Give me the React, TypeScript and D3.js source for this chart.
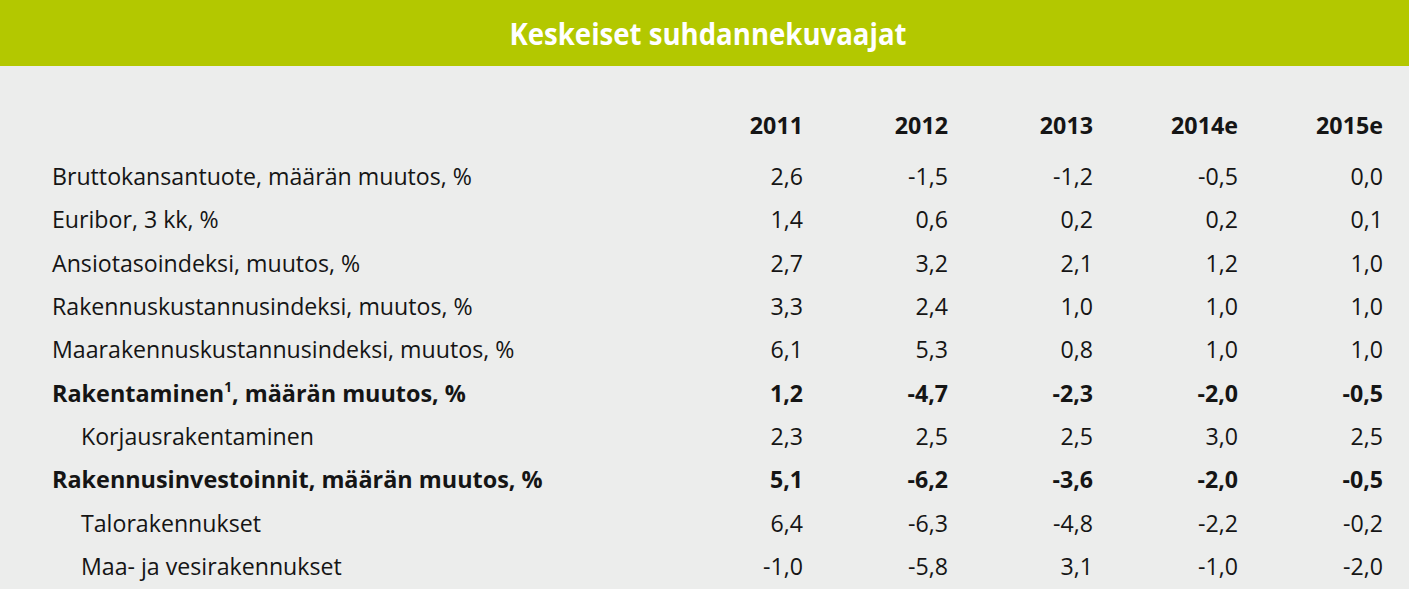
import React from 'react'
import * as d3 from 'd3'

const title = 'Keskeiset suhdannekuvaajat'
const years = ['2011', '2012', '2013', '2014e', '2015e']

const rowLabels = [
  'Bruttokansantuote, määrän muutos, %',
  'Euribor, 3 kk, %',
  'Ansiotasoindeksi, muutos, %',
  'Rakennuskustannusindeksi, muutos, %',
  'Maarakennuskustannusindeksi, muutos, %',
  'Rakentaminen',
  'Korjausrakentaminen',
  'Rakennusinvestoinnit, määrän muutos, %',
  'Talorakennukset',
  'Maa- ja vesirakennukset',
]
const boldRows = [5, 7]
const indentRows = [6, 8, 9]

const v2011 = ['2,6', '1,4', '2,7', '3,3', '6,1', '1,2', '2,3', '5,1', '6,4', '-1,0']
const v2012 = ['-1,5', '0,6', '3,2', '2,4', '5,3', '-4,7', '2,5', '-6,2', '-6,3', '-5,8']
const v2013 = ['-1,2', '0,2', '2,1', '1,0', '0,8', '-2,3', '2,5', '-3,6', '-4,8', '3,1']
const v2014 = ['-0,5', '0,2', '1,2', '1,0', '1,0', '-2,0', '3,0', '-2,0', '-2,2', '-1,0']
const v2015 = ['0,0', '0,1', '1,0', '1,0', '1,0', '-0,5', '2,5', '-0,5', '-0,2', '-2,0']
const columns = [v2011, v2012, v2013, v2014, v2015]

const W = 1409
const H = 589
const FONT = "'Open Sans', sans-serif"

export default function App() {
  const x = d3.scalePoint<string>().domain(years).range([803, 1383])
  const y = d3.scalePoint<number>().domain(d3.range(rowLabels.length)).range([185, 575])

  const txt = (key: string, px: number, py: number, s: string | React.ReactNode, opts: any = {}) => (
    <text
      key={key}
      transform={`translate(${px},${py}) scale(${opts.sq || 0.965},1)`}
      textAnchor={opts.anchor || 'start'}
      fontWeight={opts.bold ? 700 : 400}
      fontSize={opts.size || 24}
      fill={opts.fill || '#151515'}
    >
      {s}
    </text>
  )

  return (
    <svg width={W} height={H} style={{ position: 'absolute', left: 0, top: 0, display: 'block' }} fontFamily={FONT}>
      <rect width={W} height={H} fill="#ecedec" />
      <rect width={W} height={66} fill="#b3c800" />
      {txt('title', 708, 45, title, { anchor: 'middle', bold: true, size: 31, fill: '#ffffff', sq: 0.89 })}

      {years.map(yr => txt('h' + yr, x(yr)!, 134, yr, { anchor: 'end', bold: true, sq: 0.97 }))}

      {rowLabels.map((lab, i) => {
        const bold = boldRows.includes(i)
        const px = indentRows.includes(i) ? 81 : 52
        const content = i === 5
          ? (<>{lab}<tspan fontSize={14} dy={-10}>1</tspan><tspan dy={10}>, määrän muutos, %</tspan></>)
          : lab
        return txt('l' + i, px, y(i)!, content, { bold, sq: bold ? 0.975 : 0.965 })
      })}

      {columns.map((col, c) =>
        col.map((v, i) => txt(`v${c}-${i}`, x(years[c])!, y(i)!, v, { anchor: 'end', bold: boldRows.includes(i) }))
      )}
    </svg>
  )
}
